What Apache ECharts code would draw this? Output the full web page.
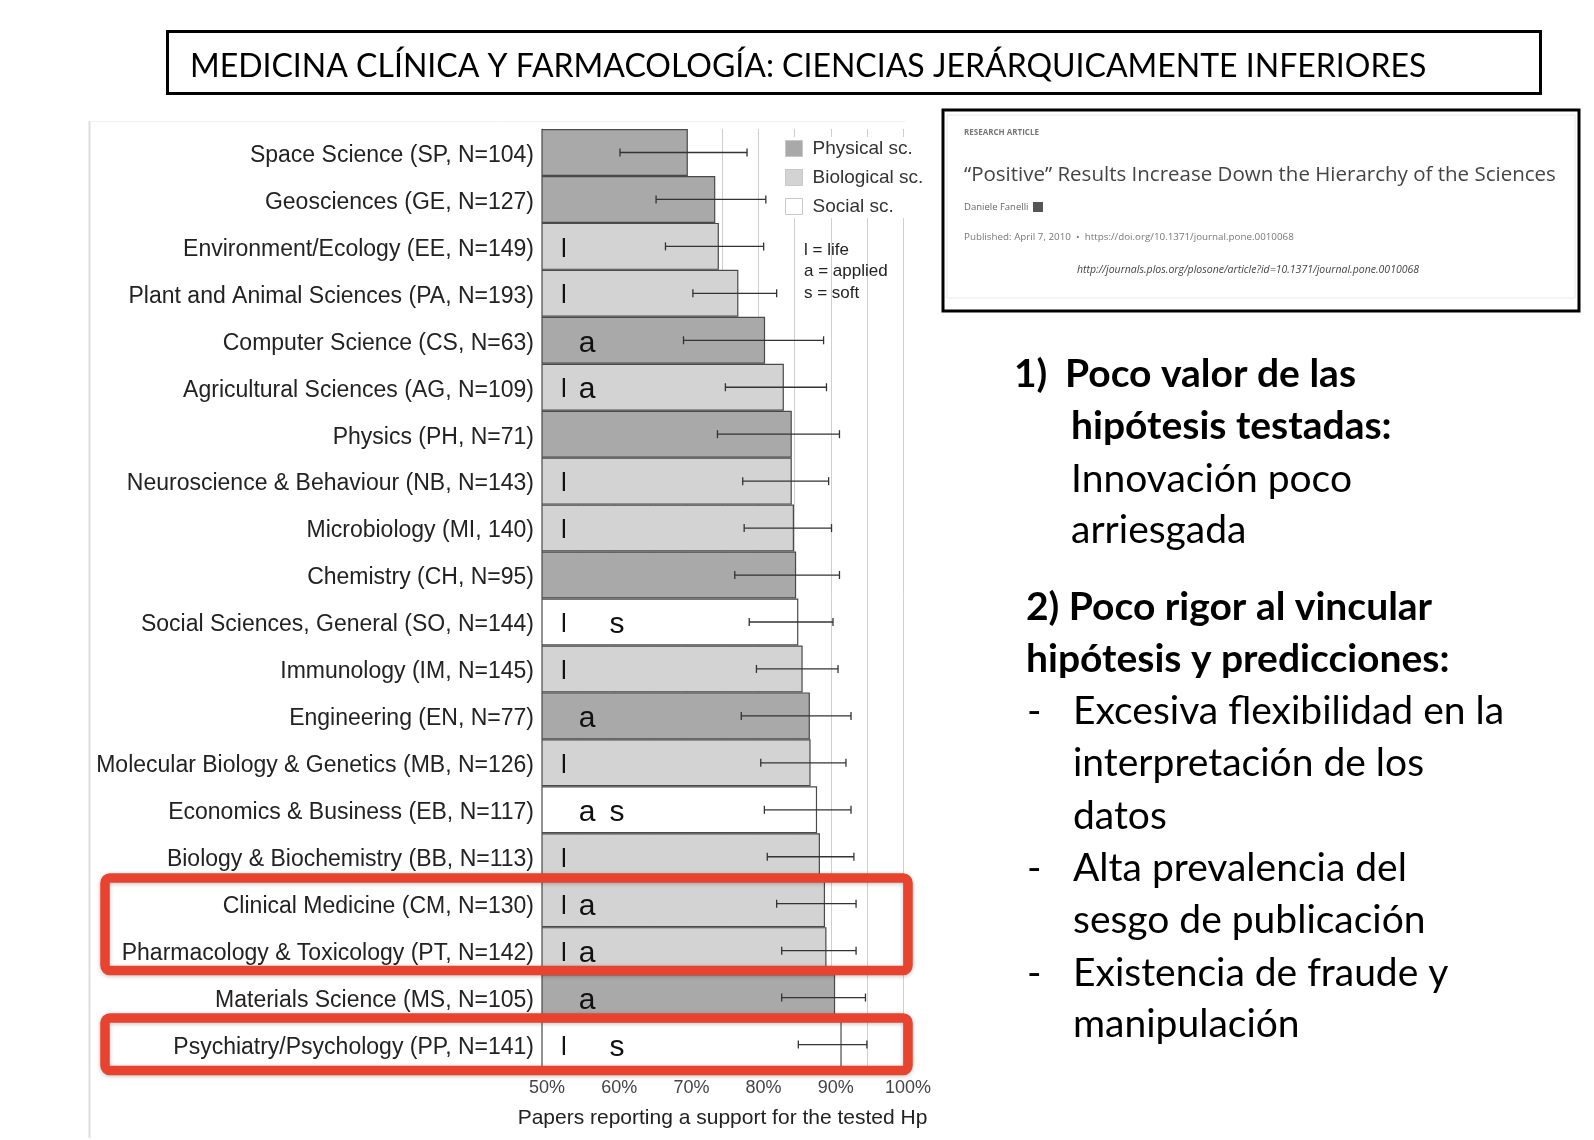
<!DOCTYPE html>
<html>
<head>
<meta charset="utf-8">
<script src="https://cdn.jsdelivr.net/npm/echarts@6/dist/echarts.min.js"></script>
<style>
html, body { margin: 0; padding: 0; background: #fff; }
#chart { width: 1594px; height: 1140px; }
</style>
</head>
<body>
<div id="chart"></div>
<script>
// categorias (de arriba a abajo)
var categories = [
  'Space Science (SP, N=104)',
  'Geosciences (GE, N=127)',
  'Environment/Ecology (EE, N=149)',
  'Plant and Animal Sciences (PA, N=193)',
  'Computer Science (CS, N=63)',
  'Agricultural Sciences (AG, N=109)',
  'Physics (PH, N=71)',
  'Neuroscience & Behaviour (NB, N=143)',
  'Microbiology (MI, 140)',
  'Chemistry (CH, N=95)',
  'Social Sciences, General (SO, N=144)',
  'Immunology (IM, N=145)',
  'Engineering (EN, N=77)',
  'Molecular Biology & Genetics (MB, N=126)',
  'Economics & Business (EB, N=117)',
  'Biology & Biochemistry (BB, N=113)',
  'Clinical Medicine (CM, N=130)',
  'Pharmacology & Toxicology (PT, N=142)',
  'Materials Science (MS, N=105)',
  'Psychiatry/Psychology (PP, N=141)'
];
// % de papers con resultado positivo
var shares = [70.2, 74.0, 74.5, 77.2, 80.9, 83.5, 84.6, 84.6, 84.9, 85.2,
              85.5, 86.1, 87.1, 87.2, 88.1, 88.5, 89.2, 89.4, 90.6, 91.5];
// intervalos de confianza
var ciLow  = [60.8, 65.8, 67.1, 70.9, 69.6, 75.4, 74.3, 77.8, 78.0, 76.7,
              78.7, 79.7, 77.6, 80.3, 80.8, 81.2, 82.5, 83.2, 83.2, 85.5];
var ciHigh = [78.4, 81.0, 80.7, 82.5, 89.0, 89.4, 91.2, 89.7, 90.1, 91.2,
              90.3, 91.0, 92.8, 92.1, 92.8, 93.2, 93.5, 93.5, 94.8, 95.0];
var groups = ['Physical sc.', 'Physical sc.', 'Biological sc.', 'Biological sc.', 'Physical sc.',
              'Biological sc.', 'Physical sc.', 'Biological sc.', 'Biological sc.', 'Physical sc.',
              'Social sc.', 'Biological sc.', 'Physical sc.', 'Biological sc.', 'Social sc.',
              'Biological sc.', 'Biological sc.', 'Biological sc.', 'Physical sc.', 'Social sc.'];
// l = life, a = applied, s = soft
var marks = ['', '', 'l', 'l', 'a', 'la', '', 'l', 'l', '',
             'ls', 'l', 'a', 'l', 'as', 'l', 'la', 'la', 'a', 'ls'];
var groupNames = ['Physical sc.', 'Biological sc.', 'Social sc.'];
var groupColors = ['#a9a9a9', '#d3d3d3', '#ffffff'];
var markKey = ['l = life', 'a = applied', 's = soft'];

var titleText = 'MEDICINA CLÍNICA Y FARMACOLOGÍA: CIENCIAS JERÁRQUICAMENTE INFERIORES';
// texto de la derecha: [x, y, texto, negrita]
var notes = [
  [1014, 374, '1)', true],
  [1065, 374, 'Poco valor de las', true],
  [1071, 426, 'hipótesis testadas:', true],
  [1071, 479, 'Innovación poco', false],
  [1071, 530, 'arriesgada', false],
  [1026, 607, '2) Poco rigor al vincular', true],
  [1026, 659, 'hipótesis y predicciones:', true],
  [1027, 711, '-', false],
  [1073, 711, 'Excesiva flexibilidad en la', false],
  [1073, 763, 'interpretación de los', false],
  [1073, 816, 'datos', false],
  [1027, 868, '-', false],
  [1073, 868, 'Alta prevalencia del', false],
  [1073, 920, 'sesgo de publicación', false],
  [1027, 973, '-', false],
  [1073, 973, 'Existencia de fraude y', false],
  [1073, 1024, 'manipulación', false]
];

var chart = echarts.init(document.getElementById('chart'));

var series = groupNames.map(function (g, gi) {
  return {
    name: g,
    type: 'bar',
    barGap: '-100%',
    barCategoryGap: '0%',
    clip: true,
    data: shares.map(function (v, i) { return groups[i] === g ? v : '-'; }),
    itemStyle: { color: groupColors[gi], borderColor: '#4a4a4a', borderWidth: 1.2 },
    emphasis: { disabled: true },
    z: 2
  };
});

// barras de error
series.push({
  type: 'custom',
  data: ciLow.map(function (lo, i) { return [lo, ciHigh[i], i]; }),
  encode: { x: [0, 1], y: 2 },
  z: 5,
  renderItem: function (params, api) {
    var a = api.coord([api.value(0), api.value(2)]);
    var b = api.coord([api.value(1), api.value(2)]);
    var st = { stroke: '#333', lineWidth: 1.3 };
    return {
      type: 'group',
      children: [
        { type: 'line', shape: { x1: a[0], y1: a[1], x2: b[0], y2: b[1] }, style: st },
        { type: 'line', shape: { x1: a[0], y1: a[1] - 4, x2: a[0], y2: a[1] + 4 }, style: st },
        { type: 'line', shape: { x1: b[0], y1: b[1] - 4, x2: b[0], y2: b[1] + 4 }, style: st }
      ]
    };
  }
});

// letras l / a / s dentro de las barras
series.push({
  type: 'custom',
  data: marks.map(function (m, i) { return [50, i]; }),
  encode: { x: 0, y: 1 },
  z: 6,
  renderItem: function (params, api) {
    var p = api.coord([api.value(0), api.value(1)]);
    var m = marks[params.dataIndex];
    var offs = { l: 22, a: 45, s: 75 };
    var kids = [];
    for (var k = 0; k < m.length; k++) {
      var c = m.charAt(k);
      kids.push({
        type: 'text',
        style: {
          text: c, x: p[0] + offs[c], y: p[1] + 3,
          align: 'center', verticalAlign: 'middle',
          fill: '#111',
          font: (c === 'l' ? '26px' : '30px') + ' "Liberation Sans", Arial, sans-serif'
        }
      });
    }
    return { type: 'group', children: kids };
  }
});

var graphics = [
  // marco izquierdo tenue
  { type: 'line', shape: { x1: 89.5, y1: 121, x2: 89.5, y2: 1138 }, style: { stroke: '#dedede', lineWidth: 2 }, z: 1 },
  { type: 'line', shape: { x1: 89.5, y1: 121.5, x2: 905, y2: 121.5 }, style: { stroke: '#f0f0f0', lineWidth: 1 }, z: 1 },
  // titulo
  { type: 'rect', shape: { x: 167.5, y: 31.5, width: 1373, height: 62 }, style: { fill: 'none', stroke: '#000', lineWidth: 3 } },
  { type: 'text', style: { text: titleText, x: 190, y: 67, verticalAlign: 'middle', fill: '#000',
      font: '32px Lato, "Open Sans", sans-serif' } },
  // recuadro del articulo
  { type: 'rect', shape: { x: 943, y: 110, width: 636, height: 201 }, style: { fill: '#fff', stroke: '#000', lineWidth: 3 } },
  { type: 'rect', shape: { x: 947, y: 115, width: 628, height: 183 }, style: { fill: 'none', stroke: '#e8e8e8', lineWidth: 1 } },
  { type: 'text', style: { text: 'RESEARCH ARTICLE', x: 964, y: 133, verticalAlign: 'middle', fill: '#777',
      font: 'bold 8px "Open Sans", sans-serif' } },
  { type: 'text', style: { text: '\u201cPositive\u201d Results Increase Down the Hierarchy of the Sciences', x: 964, y: 175,
      verticalAlign: 'middle', fill: '#444', font: '20.5px "Open Sans", sans-serif' } },
  { type: 'text', style: { text: 'Daniele Fanelli', x: 964, y: 207, verticalAlign: 'middle', fill: '#666',
      font: '9.5px "Open Sans", sans-serif' } },
  { type: 'rect', shape: { x: 1033, y: 202, width: 10, height: 10 }, style: { fill: '#555' } },
  { type: 'text', style: { text: 'Published: April 7, 2010  \u2022  https://doi.org/10.1371/journal.pone.0010068', x: 964, y: 237,
      verticalAlign: 'middle', fill: '#777', font: '9.8px "Open Sans", sans-serif' } },
  { type: 'text', style: { text: 'http://journals.plos.org/plosone/article?id=10.1371/journal.pone.0010068', x: 1077, y: 270,
      verticalAlign: 'middle', fill: '#444', font: 'italic 10.5px "Open Sans", sans-serif' } },
  // clave de letras
  { type: 'text', style: { text: markKey[0], x: 804, y: 250, verticalAlign: 'middle', fill: '#222', font: '17px "Liberation Sans", Arial, sans-serif' }, z: 5 },
  { type: 'text', style: { text: markKey[1], x: 804, y: 271, verticalAlign: 'middle', fill: '#222', font: '17px "Liberation Sans", Arial, sans-serif' }, z: 5 },
  { type: 'text', style: { text: markKey[2], x: 804, y: 293, verticalAlign: 'middle', fill: '#222', font: '17px "Liberation Sans", Arial, sans-serif' }, z: 5 },
  // recuadros rojos
  { type: 'rect', shape: { x: 105, y: 878, width: 803, height: 92.5, r: 5 },
    style: { fill: 'none', stroke: '#e8432e', lineWidth: 9.5, shadowBlur: 4, shadowColor: 'rgba(0,0,0,0.25)', shadowOffsetY: 1 }, z: 100 },
  { type: 'rect', shape: { x: 105, y: 1018, width: 803, height: 52.5, r: 5 },
    style: { fill: 'none', stroke: '#e8432e', lineWidth: 9.5, shadowBlur: 4, shadowColor: 'rgba(0,0,0,0.25)', shadowOffsetY: 1 }, z: 100 }
];

notes.forEach(function (n) {
  graphics.push({
    type: 'text',
    style: {
      text: n[2], x: n[0], y: n[1], verticalAlign: 'middle', fill: '#000',
      font: (n[3] ? 'bold ' : '') + '39px Lato, "Open Sans", sans-serif'
    }
  });
});

var option = {
  backgroundColor: '#fff',
  animation: false,
  grid: { left: 542, right: 691, top: 129, bottom: 72 },
  legend: {
    orient: 'vertical',
    left: 783,
    top: 137,
    padding: [2, 4, 2, 2],
    backgroundColor: '#fff',
    itemWidth: 17,
    itemHeight: 16,
    itemGap: 10,
    icon: 'rect',
    selectedMode: false,
    itemStyle: { borderColor: '#c8c8c8', borderWidth: 1 },
    textStyle: { fontSize: 19, color: '#333', fontFamily: '"Liberation Sans", Arial, sans-serif', padding: [0, 0, 0, 5] },
    data: groupNames
  },
  xAxis: {
    type: 'value',
    min: 50,
    max: 100,
    interval: 5,
    axisLine: { show: false },
    axisTick: { show: false },
    splitLine: { show: true, lineStyle: { color: '#cfcfcf', width: 1 } },
    axisLabel: {
      margin: 11,
      fontSize: 18,
      color: '#444',
      fontFamily: '"Liberation Sans", Arial, sans-serif',
      padding: [0, 0, 0, 10],
      formatter: function (v) { return v % 10 === 0 ? v + '%' : ''; }
    },
    name: 'Papers reporting a support for the tested Hp',
    nameLocation: 'middle',
    nameGap: 40,
    nameTextStyle: { fontSize: 21, color: '#222', fontFamily: '"Liberation Sans", Arial, sans-serif' }
  },
  yAxis: {
    type: 'category',
    inverse: true,
    data: categories,
    axisLine: { show: true, lineStyle: { color: '#888', width: 1 } },
    axisTick: { show: false },
    splitLine: { show: false },
    axisLabel: {
      margin: 8,
      color: '#222',
      formatter: function (v) { return '{t|' + v + '}'; },
      rich: {
        t: { fontSize: 23, color: '#222', padding: [6, 0, 0, 0], fontFamily: '"Liberation Sans", Arial, sans-serif' }
      }
    }
  },
  series: series,
  graphic: graphics
};

chart.setOption(option);
</script>
</body>
</html>
